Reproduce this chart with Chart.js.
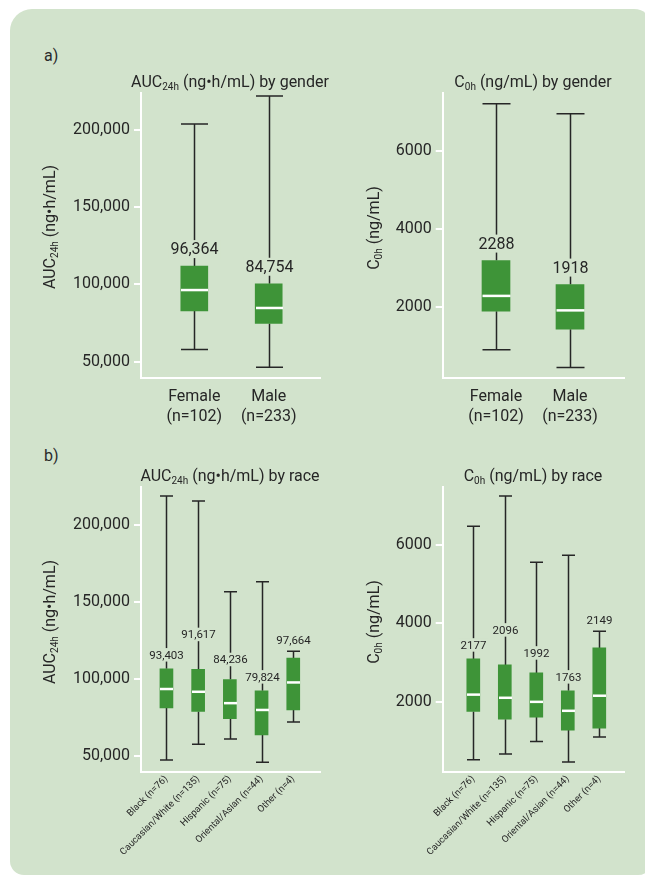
<!DOCTYPE html>
<html>
<head>
<meta charset="utf-8">
<script src="https://cdn.jsdelivr.net/npm/chart.js@4.4.1/dist/chart.umd.min.js"></script>
<style>
  html, body { margin: 0; padding: 0; background: #ffffff; }
  body { width: 645px; height: 877px; position: relative; overflow: hidden; font-family: Roboto, sans-serif; }
  #panel { position: absolute; left: 10px; top: 9px; width: 642px; height: 866px; background: #d2e3cc;
           border-radius: 22px 18px 14px 14px; }
  canvas { position: absolute; left: 0; top: 0; }
  .tag { position: absolute; font: 16px Roboto, sans-serif; color: #2a2a2a; line-height: 18px; }
</style>
</head>
<body>
<div id="panel"></div>
<div class="tag" style="left:44px; top:47px;">a)</div>
<div class="tag" style="left:44px; top:447px;">b)</div>
<canvas id="aucGender" width="645" height="877"></canvas>
<canvas id="c0hGender" width="645" height="877"></canvas>
<canvas id="aucRace" width="645" height="877"></canvas>
<canvas id="c0hRace" width="645" height="877"></canvas>
<script>
// ---- categories and axis ticks ----
const genderCats = [['Female', '(n=102)'], ['Male', '(n=233)']];
const raceCats = ['Black (n=76)', 'Caucasian/White (n=135)', 'Hispanic (n=75)', 'Oriental/Asian (n=44)', 'Other (n=4)'];
const aucTicks = [50000, 100000, 150000, 200000];
const c0hTicks = [2000, 4000, 6000];

// ---- AUC24h (ng·h/mL) by gender ----
const aucGenderMin    = [57800, 46300];
const aucGenderQ1     = [82900, 74700];
const aucGenderMedian = [96364, 84754];
const aucGenderQ3     = [111900, 100450];
const aucGenderMax    = [203900, 222000];

// ---- C0h (ng/mL) by gender ----
const c0hGenderMin    = [910, 458];
const c0hGenderQ1     = [1898, 1438];
const c0hGenderMedian = [2288, 1918];
const c0hGenderQ3     = [3190, 2577];
const c0hGenderMax    = [7200, 6945];

// ---- AUC24h (ng·h/mL) by race ----
const aucRaceMin    = [47400, 57600, 61000, 45900, 72000];
const aucRaceQ1     = [81200, 78800, 74100, 63700, 79900];
const aucRaceMedian = [93403, 91617, 84236, 79824, 97664];
const aucRaceQ3     = [106500, 106100, 99600, 92200, 113400];
const aucRaceMax    = [218500, 215300, 156500, 162950, 117900];

// ---- C0h (ng/mL) by race ----
const c0hRaceMin    = [511, 657, 979, 453, 1091];
const c0hRaceQ1     = [1745, 1550, 1602, 1270, 1321];
const c0hRaceMedian = [2177, 2096, 1992, 1763, 2149];
const c0hRaceQ3     = [3090, 2937, 2732, 2273, 3371];
const c0hRaceMax    = [6485, 7259, 5566, 5745, 3796];

// ---- styling ----
const PANEL_BG = '#d2e3cc';
const BOX_GREEN = '#3e9438';
const INK = '#262626';
const FONT = 'Roboto, sans-serif';
// how far (px) each median label sits above its box, staggered so neighbours don't collide
const genderLabelLift = [17, 17];
const raceLabelLift = [14, 35, 20, 14, 11];

Chart.defaults.font.family = FONT;
Chart.defaults.color = INK;

const fmtComma = v => Number(v).toLocaleString('en-US');
const fmtPlain = v => String(v);

// text with subscript pieces: parts = [[text, isSub], ...]
function richWidth(ctx, parts, size) {
  let w = 0;
  for (const [t, sub] of parts) {
    ctx.font = (sub ? Math.round(size * 0.62) : size) + 'px ' + FONT;
    w += ctx.measureText(t).width;
  }
  return w;
}
function drawRich(ctx, parts, cx, baseline, size) {
  let x = cx - richWidth(ctx, parts, size) / 2;
  ctx.textAlign = 'left';
  ctx.textBaseline = 'alphabetic';
  for (const [t, sub] of parts) {
    ctx.font = (sub ? Math.round(size * 0.62) : size) + 'px ' + FONT;
    ctx.fillText(t, x, baseline + (sub ? 3 : 0));
    x += ctx.measureText(t).width;
  }
}

// whiskers, caps, medians, value labels and titles for one box-plot panel
function boxDecor(o) {
  return {
    id: 'boxDecor',
    beforeDatasetsDraw(chart) {
      const ctx = chart.ctx, xs = chart.scales.x, ys = chart.scales.y;
      ctx.save();
      ctx.strokeStyle = INK;
      ctx.lineWidth = 1.5;
      o.median.forEach((_, i) => {
        const x = Math.round(xs.getPixelForValue(i + 1)) + 0.5;
        const half = o.boxW / 2;
        const pMax = ys.getPixelForValue(o.max[i]), pQ3 = ys.getPixelForValue(o.q3[i]);
        const pQ1 = ys.getPixelForValue(o.q1[i]), pMin = ys.getPixelForValue(o.min[i]);
        ctx.beginPath();
        ctx.moveTo(x, pMax); ctx.lineTo(x, pQ3);
        ctx.moveTo(x, pQ1); ctx.lineTo(x, pMin);
        ctx.moveTo(x - half, pMax); ctx.lineTo(x + half, pMax);
        ctx.moveTo(x - half, pMin); ctx.lineTo(x + half, pMin);
        ctx.stroke();
      });
      ctx.restore();
    },
    afterDatasetsDraw(chart) {
      const ctx = chart.ctx, xs = chart.scales.x, ys = chart.scales.y;
      ctx.save();
      o.median.forEach((m, i) => {
        const x = Math.round(xs.getPixelForValue(i + 1)) + 0.5;
        const half = o.boxW / 2;
        const pMed = ys.getPixelForValue(m);
        ctx.fillStyle = '#ffffff';
        ctx.fillRect(x - half, pMed - 1.25, o.boxW, 2.5);

        // value label above the box (or above the cap when the cap hugs the box)
        const pQ3 = ys.getPixelForValue(o.q3[i]);
        const pMax = ys.getPixelForValue(o.max[i]);
        const anchor = (pQ3 - pMax < 20) ? pMax : pQ3;
        const y = anchor - o.lift[i];
        const txt = o.fmt(m);
        ctx.font = o.labelSize + 'px ' + FONT;
        const w = ctx.measureText(txt).width;
        ctx.fillStyle = PANEL_BG;
        ctx.fillRect(x - w / 2 - 2, y - o.labelSize / 2 - 1, w + 4, o.labelSize + 2);
        ctx.fillStyle = INK;
        ctx.textAlign = 'center';
        ctx.textBaseline = 'middle';
        ctx.fillText(txt, x, y + 1);
      });
      ctx.restore();
    },
    afterDraw(chart) {
      const ctx = chart.ctx;
      ctx.save();
      ctx.fillStyle = INK;
      drawRich(ctx, o.title, o.titleX, o.titleBase, 16);
      ctx.translate(o.yTitleBase, o.yTitleY);
      ctx.rotate(-Math.PI / 2);
      drawRich(ctx, o.yTitle, 0, 0, 16);
      ctx.restore();
    }
  };
}

function boxChart(id, o) {
  return new Chart(document.getElementById(id), {
    type: 'bar',
    data: {
      datasets: [{
        data: o.cats.map((_, i) => ({ x: i + 1, y: [o.q1[i], o.q3[i]] })),
        backgroundColor: BOX_GREEN,
        borderWidth: 0,
        borderSkipped: false,
        barThickness: o.boxW
      }]
    },
    options: {
      responsive: false,
      animation: false,
      devicePixelRatio: 1,
      layout: { padding: o.pad },
      plugins: { legend: { display: false }, tooltip: { enabled: false }, title: { display: false } },
      scales: {
        x: {
          type: 'linear',
          offset: false,
          min: o.xMin, max: o.xMax,
          afterFit: s => { s.height = o.xH; },
          afterBuildTicks: s => { s.ticks = o.cats.map((_, i) => ({ value: i + 1 })); },
          ticks: {
            autoSkip: false,
            callback: v => o.cats[v - 1],
            font: { size: o.catSize, lineHeight: 1.25 },
            color: INK,
            padding: o.catPad,
            minRotation: o.rot, maxRotation: o.rot
          },
          grid: { display: false, drawTicks: false, offset: false },
          border: { display: true, color: '#ffffff', width: 2 }
        },
        y: {
          type: 'linear',
          min: o.yMin, max: o.yMax,
          afterFit: s => { s.width = o.yW; },
          afterBuildTicks: s => { s.ticks = o.ticks.map(v => ({ value: v })); },
          ticks: { callback: o.tickFmt, font: { size: 16 }, color: INK, padding: 4 },
          grid: { drawOnChartArea: false, drawTicks: true, tickLength: 7, color: '#ffffff', lineWidth: 2 },
          border: { display: true, color: '#ffffff', width: 2 }
        }
      }
    },
    plugins: [boxDecor(o)]
  });
}

const aucTitle = [['AUC', false], ['24h', true], [' (ng\u2022h/mL)', false]];
const c0hTitle = [['C', false], ['0h', true], [' (ng/mL)', false]];

// a) by gender
boxChart('aucGender', {
  cats: genderCats, min: aucGenderMin, q1: aucGenderQ1, median: aucGenderMedian, q3: aucGenderQ3, max: aucGenderMax,
  ticks: aucTicks, tickFmt: fmtComma, fmt: fmtComma, yMin: 39400, yMax: 224200,
  xMin: 0.2836, xMax: 2.6895, boxW: 27, lift: genderLabelLift, labelSize: 16,
  pad: { left: 0, right: 325, top: 92.7, bottom: 439 }, yW: 141, xH: 60,
  catSize: 16, catPad: 9, rot: 0,
  title: aucTitle.concat([[' by gender', false]]), titleX: 230, titleBase: 87,
  yTitle: aucTitle, yTitleBase: 55, yTitleY: 227
});
boxChart('c0hGender', {
  cats: genderCats, min: c0hGenderMin, q1: c0hGenderQ1, median: c0hGenderMedian, q3: c0hGenderQ3, max: c0hGenderMax,
  ticks: c0hTicks, tickFmt: fmtPlain, fmt: fmtPlain, yMin: 190, yMax: 7480,
  xMin: 0.2797, xMax: 2.7338, boxW: 28, lift: genderLabelLift, labelSize: 16,
  pad: { left: 320, right: 20.7, top: 92.7, bottom: 439 }, yW: 122.7, xH: 60,
  catSize: 16, catPad: 9, rot: 0,
  title: c0hTitle.concat([[' by gender', false]]), titleX: 533, titleBase: 87,
  yTitle: c0hTitle, yTitleBase: 379, yTitleY: 228
});

// b) by race
boxChart('aucRace', {
  cats: raceCats, min: aucRaceMin, q1: aucRaceQ1, median: aucRaceMedian, q3: aucRaceQ3, max: aucRaceMax,
  ticks: aucTicks, tickFmt: fmtComma, fmt: fmtComma, yMin: 39400, yMax: 224200,
  xMin: 0.1975, xMax: 5.8436, boxW: 13, lift: raceLabelLift, labelSize: 11.5,
  pad: { left: 0, right: 325, top: 487.3, bottom: 14.7 }, yW: 141, xH: 90,
  catSize: 9.5, catPad: 1, rot: 45,
  title: aucTitle.concat([[' by race', false]]), titleX: 230, titleBase: 481,
  yTitle: aucTitle, yTitleBase: 55, yTitleY: 622
});
boxChart('c0hRace', {
  cats: raceCats, min: c0hRaceMin, q1: c0hRaceQ1, median: c0hRaceMedian, q3: c0hRaceQ3, max: c0hRaceMax,
  ticks: c0hTicks, tickFmt: fmtPlain, fmt: fmtPlain, yMin: 190, yMax: 7480,
  xMin: 0.0286, xMax: 5.794, boxW: 13, lift: raceLabelLift, labelSize: 11.5,
  pad: { left: 320, right: 20.7, top: 487.3, bottom: 14.7 }, yW: 122.7, xH: 90,
  catSize: 9.5, catPad: 1, rot: 45,
  title: c0hTitle.concat([[' by race', false]]), titleX: 533, titleBase: 481,
  yTitle: c0hTitle, yTitleBase: 379, yTitleY: 622
});
</script>
</body>
</html>
